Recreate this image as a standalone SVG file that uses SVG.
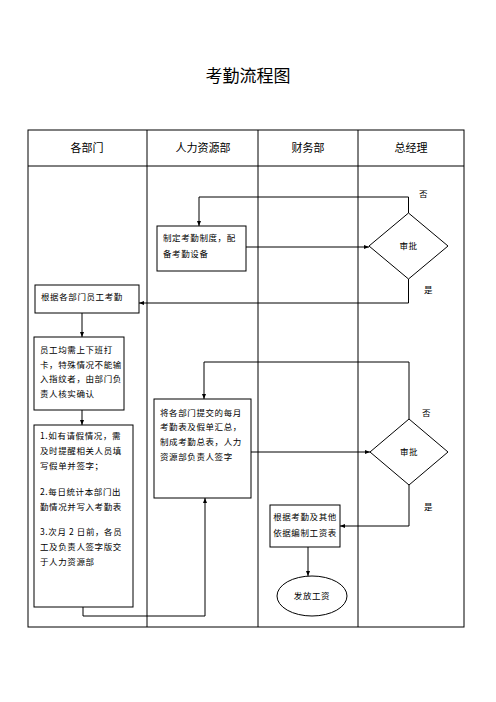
<svg xmlns="http://www.w3.org/2000/svg" width="496" height="702" viewBox="0 0 496 702">
<style>
.ln{fill:none;stroke:#000;stroke-width:1}
.bx{fill:#fff;stroke:#000;stroke-width:1}
.t{font-family:"Noto Sans CJK SC","Noto Sans",sans-serif;font-size:8.5px;letter-spacing:0.6px;fill:#000}
.h{font-family:"Noto Sans CJK SC","Noto Sans",sans-serif;font-size:11px;fill:#000;text-anchor:middle}
.c{text-anchor:middle}
</style>
<defs>
<marker id="ar" viewBox="0 0 10 10" refX="10" refY="5" markerWidth="5" markerHeight="5" orient="auto" markerUnits="userSpaceOnUse">
<path d="M0,1 L10,5 L0,9 Z" fill="#000"/>
</marker>
</defs>
<rect width="496" height="702" fill="#fff"/>
<text x="248" y="82" font-family="Noto Sans CJK SC,sans-serif" font-size="17" text-anchor="middle" fill="#000">考勤流程图</text>
<g id="table">
<rect class="ln" x="28" y="130" width="436" height="497"/>
<line class="ln" x1="28" y1="166" x2="464" y2="166"/>
<line class="ln" x1="147" y1="130" x2="147" y2="627"/>
<line class="ln" x1="258" y1="130" x2="258" y2="627"/>
<line class="ln" x1="358" y1="130" x2="358" y2="627"/>
<text class="h" x="87" y="152">各部门</text>
<text class="h" x="203" y="152">人力资源部</text>
<text class="h" x="308" y="152">财务部</text>
<text class="h" x="411" y="152">总经理</text>
</g>
<g id="connectors">
<line class="ln" x1="246" y1="247" x2="369" y2="247" marker-end="url(#ar)"/>
<polyline class="ln" points="408.5,213 408.5,197 199,197 199,226" marker-end="url(#ar)"/>
<polyline class="ln" points="408.5,279 408.5,303 139,303" marker-end="url(#ar)"/>
<line class="ln" x1="82" y1="313" x2="82" y2="337" marker-end="url(#ar)"/>
<line class="ln" x1="82" y1="410" x2="82" y2="425" marker-end="url(#ar)"/>
<polyline class="ln" points="83,607 83,616 205,616 205,498" marker-end="url(#ar)"/>
<line class="ln" x1="251" y1="452" x2="370" y2="452" marker-end="url(#ar)"/>
<polyline class="ln" points="409,419 409,362 204,362 204,399" marker-end="url(#ar)"/>
<polyline class="ln" points="409,485 409,526 340,526" marker-end="url(#ar)"/>
<line class="ln" x1="308" y1="547" x2="308" y2="576" marker-end="url(#ar)"/>
<text class="t" x="419" y="197">否</text>
<text class="t" x="424" y="293">是</text>
<text class="t" x="422" y="416">否</text>
<text class="t" x="424" y="510">是</text>
</g>
<g id="n1">
<rect class="bx" x="157" y="226" width="89" height="45"/>
<text class="t" x="163" y="241">制定考勤制度，配</text>
<text class="t" x="163" y="257">备考勤设备</text>
</g>
<g id="d1">
<polygon class="bx" points="408.5,213 448,246 408.5,279 369,246"/>
<text class="t c" x="408.5" y="249">审批</text>
</g>
<g id="n2">
<rect class="bx" x="35" y="285" width="104" height="28"/>
<text class="t" x="41" y="300">根据各部门员工考勤</text>
</g>
<g id="n3">
<rect class="bx" x="34" y="337" width="90" height="73"/>
<text class="t" x="40" y="353">员工均需上下班打</text>
<text class="t" x="40" y="368">卡，特殊情况不能输</text>
<text class="t" x="40" y="382">入指纹者，由部门负</text>
<text class="t" x="40" y="397">责人核实确认</text>
</g>
<g id="n4">
<rect class="bx" x="34" y="425" width="99" height="182"/>
<text class="t" x="40" y="439">1.如有请假情况，需</text>
<text class="t" x="40" y="454">及时提醒相关人员填</text>
<text class="t" x="40" y="469">写假单并签字；</text>
<text class="t" x="40" y="495">2.每日统计本部门出</text>
<text class="t" x="40" y="510">勤情况并写入考勤表</text>
<text class="t" x="40" y="535">3.次月 2 日前，各员</text>
<text class="t" x="40" y="550">工及负责人签字版交</text>
<text class="t" x="40" y="565">于人力资源部</text>
</g>
<g id="n5">
<rect class="bx" x="154" y="399" width="97" height="99"/>
<text class="t" x="160" y="416">将各部门提交的每月</text>
<text class="t" x="160" y="430">考勤表及假单汇总，</text>
<text class="t" x="160" y="445">制成考勤总表，人力</text>
<text class="t" x="160" y="460">资源部负责人签字</text>
</g>
<g id="d2">
<polygon class="bx" points="409,419 448,452 409,485 370,452"/>
<text class="t c" x="409" y="455">审批</text>
</g>
<g id="n6">
<rect class="bx" x="270" y="505" width="70" height="42"/>
<text class="t c" x="305" y="520">根据考勤及其他</text>
<text class="t c" x="305" y="536">依据编制工资表</text>
</g>
<g id="n7">
<ellipse class="bx" cx="312" cy="596" rx="35" ry="20"/>
<text class="t c" x="312" y="599">发放工资</text>
</g>
</svg>
